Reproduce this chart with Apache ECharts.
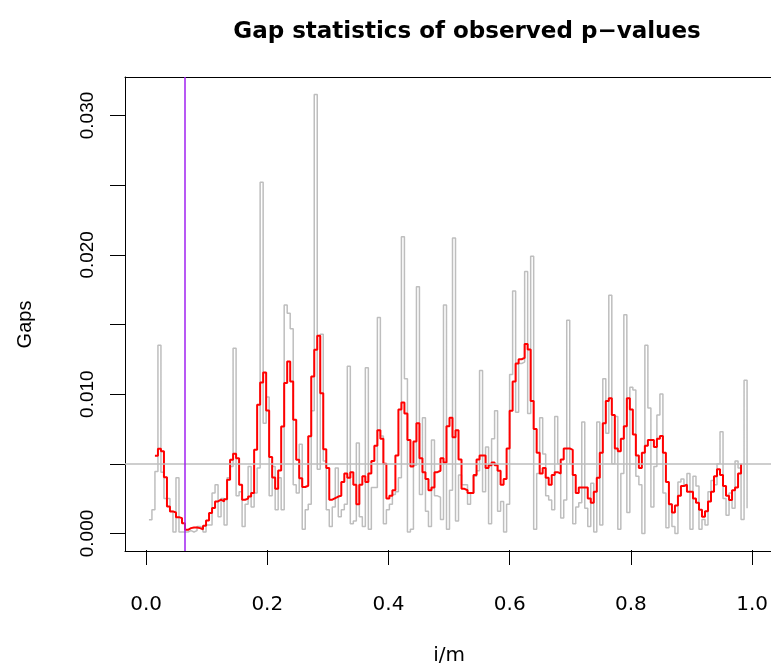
<!DOCTYPE html>
<html>
<head>
<meta charset="utf-8">
<script src="https://cdn.jsdelivr.net/npm/echarts@6/dist/echarts.min.js"></script>
<style>html,body{margin:0;padding:0;background:#fff;}#c{width:771px;height:671px;}</style>
</head>
<body>
<div id="c"></div>
<script>
const m = 200;
const gapValues = [
0.00098,0.0017,0.00445,0.0135,0.0044,0.0025,0.0025,0.0016,0.0001,0.0040,
0.0001,0.0001,0.0001,0.0002,0.0001,0.0002,0.0005,0.0004,0.0001,0.0006,
0.0006,0.0029,0.0035,0.0012,0.0025,0.0006,0.0040,0.0048,0.0133,0.0027,
0.0030,0.0005,0.0021,0.0048,0.0019,0.0029,0.0047,0.0252,0.0079,0.0098,
0.0027,0.0048,0.0017,0.0040,0.0017,0.0164,0.0158,0.0147,0.0035,0.0029,
0.0064,0.0003,0.0017,0.0021,0.0088,0.0315,0.0046,0.0143,0.0052,0.0017,
0.0005,0.0019,0.0047,0.0012,0.0017,0.0021,0.0120,0.0007,0.0009,0.0065,
0.0012,0.0005,0.0119,0.0003,0.0033,0.0033,0.0155,0.0070,0.0007,0.0017,
0.0021,0.0028,0.0030,0.0040,0.0213,0.0111,0.0001,0.0003,0.0049,0.0177,
0.0028,0.0083,0.0016,0.0005,0.0067,0.0027,0.0026,0.0010,0.0164,0.0003,
0.0031,0.0212,0.0009,0.0042,0.0035,0.0035,0.0021,0.0029,0.0041,0.0045,
0.0117,0.0030,0.0062,0.0007,0.0068,0.0088,0.0016,0.0023,0.0001,0.0021,
0.0114,0.0174,0.0087,0.0122,0.0123,0.0188,0.0086,0.0199,0.0003,0.0043,
0.0083,0.0057,0.0027,0.0024,0.0017,0.0084,0.0050,0.0011,0.0024,0.0153,
0.0050,0.0007,0.0019,0.0022,0.0080,0.0018,0.0005,0.0036,0.0001,0.0080,
0.0006,0.0111,0.0072,0.0171,0.0050,0.0084,0.0003,0.0043,0.0157,0.0015,
0.0105,0.0103,0.0041,0.0035,0.0000,0.0135,0.0090,0.0019,0.0048,0.0085,
0.0100,0.0029,0.0004,0.0021,0.0005,0.0000,0.0037,0.0039,0.0035,0.0043,
0.0003,0.0041,0.0034,0.0003,0.0010,0.0006,0.0030,0.0038,0.0035,0.0050,
0.0073,0.0025,0.0013,0.0029,0.0018,0.0052,0.0047,0.0010,0.0110,0.0018
];
const smoothStart = 3;
const smoothValues = [
0.00557,0.00608,0.0059,0.00404,0.00194,0.00158,0.0015,0.00117,0.0011,0.00074,
0.00026,0.00038,0.00043,0.00043,0.00038,0.0003,0.00055,0.00093,0.00146,0.00182,
0.0023,0.00242,0.0023,0.00246,0.00385,0.00529,0.00572,0.0054,0.0035,0.00242,
0.0025,0.00265,0.0029,0.006,0.00923,0.01083,0.01155,0.00883,0.00548,0.00402,
0.0032,0.00452,0.00768,0.01079,0.01234,0.0109,0.00816,0.00529,0.00397,0.00333,
0.00342,0.00697,0.01127,0.01318,0.01419,0.01007,0.00605,0.00469,0.00242,0.00254,
0.00265,0.0027,0.0037,0.0043,0.004,0.0044,0.0035,0.0021,0.0035,0.0041,
0.0037,0.0043,0.0052,0.0063,0.0074,0.0068,0.005,0.0025,0.0027,0.0031,
0.0056,0.0089,0.0094,0.0086,0.0067,0.0048,0.0066,0.0079,0.0054,0.0044,
0.0039,0.0031,0.0033,0.0044,0.0045,0.0054,0.0051,0.0077,0.0083,0.0069,
0.0074,0.0053,0.0032,0.0031,0.0029,0.0029,0.0042,0.0053,0.0056,0.0056,
0.0047,0.0049,0.0051,0.0049,0.0045,0.0035,0.0039,0.0061,0.0088,0.0109,
0.0122,0.0125,0.0126,0.0136,0.0132,0.0095,0.0075,0.0058,0.0043,0.0047,
0.004,0.0035,0.0042,0.0044,0.0043,0.0053,0.0061,0.0061,0.006,0.0042,
0.0029,0.0033,0.0033,0.0033,0.0025,0.0022,0.003,0.004,0.0058,0.0079,
0.0095,0.0097,0.0085,0.0061,0.0059,0.0068,0.0077,0.0097,0.0089,0.0071,
0.0056,0.0047,0.0058,0.0063,0.0067,0.0067,0.0062,0.0068,0.007,0.0058,
0.0037,0.0021,0.0015,0.002,0.0027,0.0034,0.0035,0.003,0.003,0.0025,
0.0022,0.0017,0.0012,0.0016,0.0023,0.003,0.0041,0.0046,0.0042,0.0034,
0.0027,0.0024,0.0031,0.0033,0.0043,0.005
];
const xTicks = [0, 0.2, 0.4, 0.6, 0.8, 1.0];
const yTickStep = 0.005;
const yLabelStep = 0.01;
const refLevel = 0.005;
const cutPoint = 0.065;

const gapData = gapValues.map((v, k) => [(k + 1) / m, v]);
const smoothData = smoothValues.map((v, k) => [(k + smoothStart) / m, v]);

const chart = echarts.init(document.getElementById('c'), null, {renderer: 'canvas'});
const LBL = 'Liberation Sans';
const WIDE = 'DejaVu Sans';
const frameLine = {show: true, onZero: false, lineStyle: {color: '#000', width: 1}};
chart.setOption({
  animation: false,
  backgroundColor: '#ffffff',
  title: {
    text: 'Gap statistics of observed p\u2212values',
    left: 462, top: 16, textAlign: 'center',
    textStyle: {fontFamily: WIDE, fontWeight: 'bold', fontSize: 23, color: '#000'}
  },
  grid: [
    {left: 125, top: 77, width: 651.4, height: 474, show: false},
    {left: 146.1, top: 77, width: 606.2, height: 474, show: false},
    {left: 125, top: 115.5, width: 651.4, height: 418, show: false}
  ],
  xAxis: [
    {gridIndex: 0, type: 'value', min: -0.0348, max: 1.0398, position: 'bottom',
     axisLine: frameLine, axisTick: {show: false}, axisLabel: {show: false}, splitLine: {show: false}},
    {gridIndex: 1, type: 'value', min: xTicks[0], max: xTicks[xTicks.length - 1], interval: 0.2,
     position: 'bottom',
     name: 'i/m', nameLocation: 'middle', nameGap: 96,
     nameTextStyle: {fontFamily: WIDE, fontSize: 20, color: '#000'},
     axisLine: {show: false, onZero: false},
     axisTick: {show: true, inside: false, length: 15, lineStyle: {color: '#000', width: 1}},
     axisLabel: {show: true, margin: 45, fontFamily: WIDE, fontSize: 20, color: '#000',
       formatter: v => v.toFixed(1)},
     splitLine: {show: false}},
    {gridIndex: 2, type: 'value', min: 0, max: 1, show: false},
    {gridIndex: 0, type: 'value', min: -0.0348, max: 1.0398, position: 'top',
     axisLine: frameLine, axisTick: {show: false}, axisLabel: {show: false}, splitLine: {show: false}}
  ],
  yAxis: [
    {gridIndex: 0, type: 'value', min: -0.00126, max: 0.03276, position: 'left',
     axisLine: frameLine, axisTick: {show: false}, axisLabel: {show: false}, splitLine: {show: false}},
    {gridIndex: 1, type: 'value', min: 0, max: 1, show: false},
    {gridIndex: 2, type: 'value', min: 0, max: 0.03, interval: yTickStep,
     position: 'left',
     name: 'Gaps', nameLocation: 'middle', nameGap: 90,
     nameTextStyle: {fontFamily: LBL, fontSize: 20, color: '#000'},
     axisLine: {show: false, onZero: false},
     axisTick: {show: true, inside: false, length: 15, lineStyle: {color: '#000', width: 1}},
     axisLabel: {show: true, rotate: 90, margin: 28, fontFamily: LBL, fontSize: 19, color: '#000',
       formatter: v => (Math.round(v * 1000) % Math.round(yLabelStep * 1000) === 0) ? v.toFixed(3) : ''},
     splitLine: {show: false}}
  ],
  series: [
    {type: 'line', name: 'gaps', xAxisIndex: 0, yAxisIndex: 0, data: gapData, step: 'end',
     showSymbol: false, symbol: 'none', clip: false, z: 2,
     lineStyle: {color: '#BEBEBE', width: 1.5},
     markLine: {silent: true, symbol: 'none', precision: 5, label: {show: false},
       lineStyle: {color: '#BEBEBE', width: 1.5, type: 'solid'},
       data: [{yAxis: refLevel}]}},
    {type: 'line', name: 'smoothed', xAxisIndex: 0, yAxisIndex: 0, data: smoothData, step: 'end',
     showSymbol: false, symbol: 'none', clip: false, z: 3,
     lineStyle: {color: '#FF0000', width: 2},
     markLine: {silent: true, symbol: 'none', precision: 5, label: {show: false},
       lineStyle: {color: '#A020F0', width: 1.5, type: 'solid'},
       data: [{xAxis: cutPoint}]}}
  ]
});
</script>
</body>
</html>
